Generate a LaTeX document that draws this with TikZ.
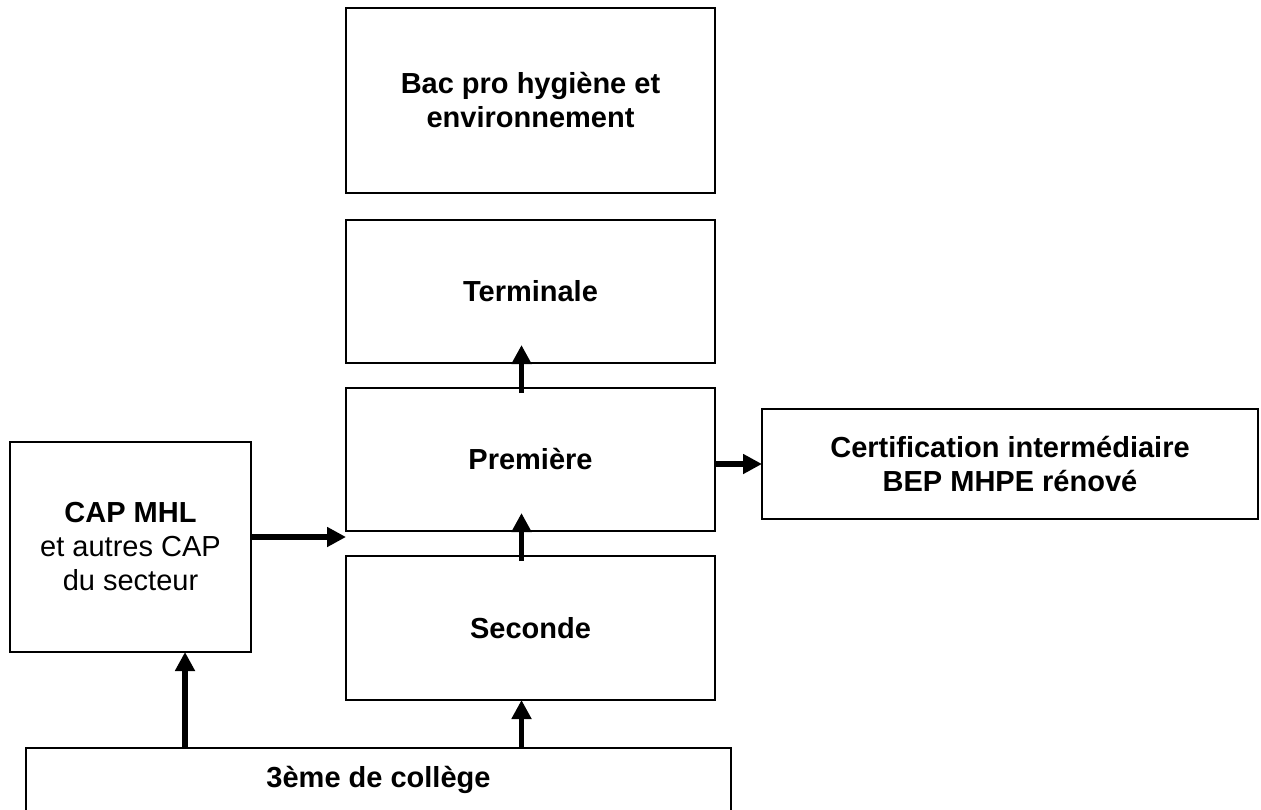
\documentclass[tikz,border=0pt]{standalone}
\usepackage{fontspec}
\setmainfont{Liberation Sans}
\usetikzlibrary{arrows.meta}
\begin{document}
\begin{tikzpicture}[x=1pt,y=-1pt,
  box/.style={draw=black, line width=1.6pt, inner sep=0pt, outer sep=0pt, align=center,
    font=\fontsize{29}{34}\selectfont\bfseries},
  flow/.style={line width=5.5pt, -{Triangle[length=19pt,width=19pt]}}]
\useasboundingbox (0,0) rectangle (1261,810);
\node[box, minimum width=369pt, minimum height=185pt] (bac) at (530.5,100.5) {Bac pro hygiène et\\environnement};
\node[box, minimum width=369pt, minimum height=143pt] (term) at (530.5,291.5) {Terminale};
\node[box, minimum width=369pt, minimum height=143pt] (prem) at (530.5,459.5) {Première};
\node[box, minimum width=369pt, minimum height=144pt] (sec) at (530.5,628) {Seconde};
\node[box, minimum width=496pt, minimum height=110pt] (cert) at (1010,464) {Certification intermédiaire\\BEP MHPE rénové};
\node[box, minimum width=241pt, minimum height=210pt] (cap) at (130.5,547) {CAP MHL\\\mdseries et autres CAP\\\mdseries du secteur};
\node[box, minimum width=705pt, minimum height=64pt] (col) at (378.5,780) {3ème de collège};
% connectors
\coordinate (colA) at (185,748);
\draw[flow] (col.north -| colA) -- (colA |- cap.south);
\draw[flow] ([xshift=-9pt]col.north -| sec.north) -- ([xshift=-9pt]sec.south);
\draw[flow] ([xshift=-9pt,yshift=-5pt]sec.north) -- ([xshift=-9pt,yshift=18pt]prem.south);
\draw[flow] ([xshift=-9pt,yshift=-5pt]prem.north) -- ([xshift=-9pt,yshift=18pt]term.south);
\coordinate (capout) at ([yshift=10pt]cap.east);
\draw[flow] (capout) -- (capout -| prem.west);
\draw[flow] (prem.east |- cert.west) -- (cert.west);
\end{tikzpicture}
\end{document}
